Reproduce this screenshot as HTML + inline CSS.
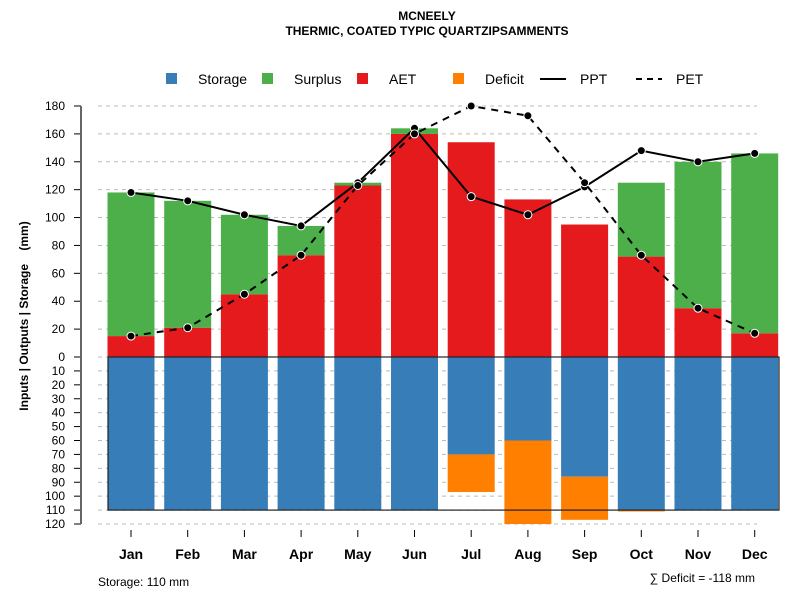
<!DOCTYPE html>
<html><head><meta charset="utf-8"><style>
body{margin:0;background:#fff;font-family:"Liberation Sans",sans-serif}
</style></head><body>
<svg id="c" width="800" height="600" xmlns="http://www.w3.org/2000/svg" font-family="Liberation Sans, sans-serif">
<text x="427" y="20" text-anchor="middle" font-size="12" font-weight="bold">MCNEELY</text>
<text x="427" y="35" text-anchor="middle" font-size="12" font-weight="bold">THERMIC, COATED TYPIC QUARTZIPSAMMENTS</text>
<g font-size="14">
<rect x="166" y="73" width="11" height="11" fill="#377eb8"/><text x="198" y="84">Storage</text>
<rect x="262" y="73" width="11" height="11" fill="#4daf4a"/><text x="294" y="84">Surplus</text>
<rect x="357" y="73" width="11" height="11" fill="#e41a1c"/><text x="389" y="84">AET</text>
<rect x="453" y="73" width="11" height="11" fill="#ff7f00"/><text x="485" y="84">Deficit</text>
<line x1="540" y1="79" x2="566" y2="79" stroke="#000" stroke-width="2"/><text x="580" y="84">PPT</text>
<line x1="636" y1="79" x2="662" y2="79" stroke="#000" stroke-width="2" stroke-dasharray="6,5"/><text x="676" y="84">PET</text>
</g>
<text transform="translate(28,316) rotate(-90)" text-anchor="middle" font-size="12" font-weight="bold" xml:space="preserve" style="white-space:pre">Inputs | Outputs | Storage    (mm)</text>
<text x="98" y="586" font-size="12">Storage: 110 mm</text>
<text x="755" y="582" text-anchor="end" font-size="12">∑ Deficit = -118 mm</text>
<g id="grid"></g><g id="bars"></g><g id="axes"></g><g id="lines"></g>
</svg>
<script>
const months=["Jan","Feb","Mar","Apr","May","Jun","Jul","Aug","Sep","Oct","Nov","Dec"];
const ppt=[118,112,102,94,125,164,115,102,122,148,140,146];
const pet=[15,21,45,73,123,160,180,173,125,73,35,17];
const aet=[15,21,45,73,123,160,154,113,95,72,35,17];
const surplus=[103,91,57,21,2,4,0,0,0,53,105,129];
const storage=[110,110,110,110,110,110,70,60,86,110,110,110];
const deficit=[0,0,0,0,0,0,27,60,31,1,0,0];
const upTicks=[0,20,40,60,80,100,120,140,160,180];
const downTicks=[10,20,30,40,50,60,70,80,90,100,110,120];
const NS="http://www.w3.org/2000/svg";
const y0=357,k=251/180;
const yU=v=>y0-v*k, yD=v=>y0+v*(167/120);
const xC=i=>131+i*56.7, bw=47;
function mk(p,t,a){const e=document.createElementNS(NS,t);for(const q in a)e.setAttribute(q,a[q]);document.getElementById(p).appendChild(e);return e;}
upTicks.forEach(v=>{
 const g=mk("grid","line",{x1:98,x2:757,y1:yU(v),y2:yU(v),stroke:"#bbb","stroke-dasharray":"4,4"});
 
 const t=mk("axes","line",{x1:74,x2:81,y1:yU(v),y2:yU(v),stroke:"#000"});
 
 const l=mk("axes","text",{x:65,y:yU(v)+4,"text-anchor":"end","font-size":12});l.textContent=v;
 
});
downTicks.forEach(v=>{
 const g=mk("grid","line",{x1:98,x2:757,y1:yD(v),y2:yD(v),stroke:"#bbb","stroke-dasharray":"4,4"});
 
 const t=mk("axes","line",{x1:74,x2:81,y1:yD(v),y2:yD(v),stroke:"#000"});
 
 const l=mk("axes","text",{x:65,y:yD(v)+4,"text-anchor":"end","font-size":12});l.textContent=v;
 
});
const ax=mk("axes","line",{x1:81,x2:81,y1:yU(180),y2:yD(120),stroke:"#666","stroke-width":2});

months.forEach((m,i)=>{
 const x=xC(i)-bw/2;
 const a=mk("bars","rect",{x:x,y:yU(aet[i]),width:bw,height:aet[i]*k,fill:"#e41a1c"});
 
 if(surplus[i]>0){const s=mk("bars","rect",{x:x,y:yU(aet[i]+surplus[i]),width:bw,height:surplus[i]*k,fill:"#4daf4a"});
 }
 const b=mk("bars","rect",{x:x,y:y0,width:bw,height:yD(storage[i])-y0,fill:"#377eb8"});
 
 if(deficit[i]>0){const d=mk("bars","rect",{x:x,y:yD(storage[i]),width:bw,height:yD(storage[i]+deficit[i])-yD(storage[i]),fill:"#ff7f00"});
 }
 const t=mk("axes","line",{x1:xC(i),x2:xC(i),y1:530,y2:537,stroke:"#000"});
 
 const l=mk("axes","text",{x:xC(i),y:559,"text-anchor":"middle","font-size":14,"font-weight":"bold"});l.textContent=m;
 
});
const box=mk("bars","rect",{x:108,y:y0,width:671,height:yD(110)-y0,fill:"none",stroke:"#222","stroke-width":1.2});

function series(vals,dash,name){
 const p=mk("lines","polyline",{points:vals.map((v,i)=>xC(i)+","+yU(v)).join(" "),fill:"none",stroke:"#000","stroke-width":2,"stroke-dasharray":dash});
 
 vals.forEach((v,i)=>{const c=mk("lines","circle",{cx:xC(i),cy:yU(v),r:4,fill:"#000",stroke:"#fff","stroke-width":1});
 });
}
series(ppt,"none","ppt");
series(pet,"7,6","pet");
</script>
</body></html>
